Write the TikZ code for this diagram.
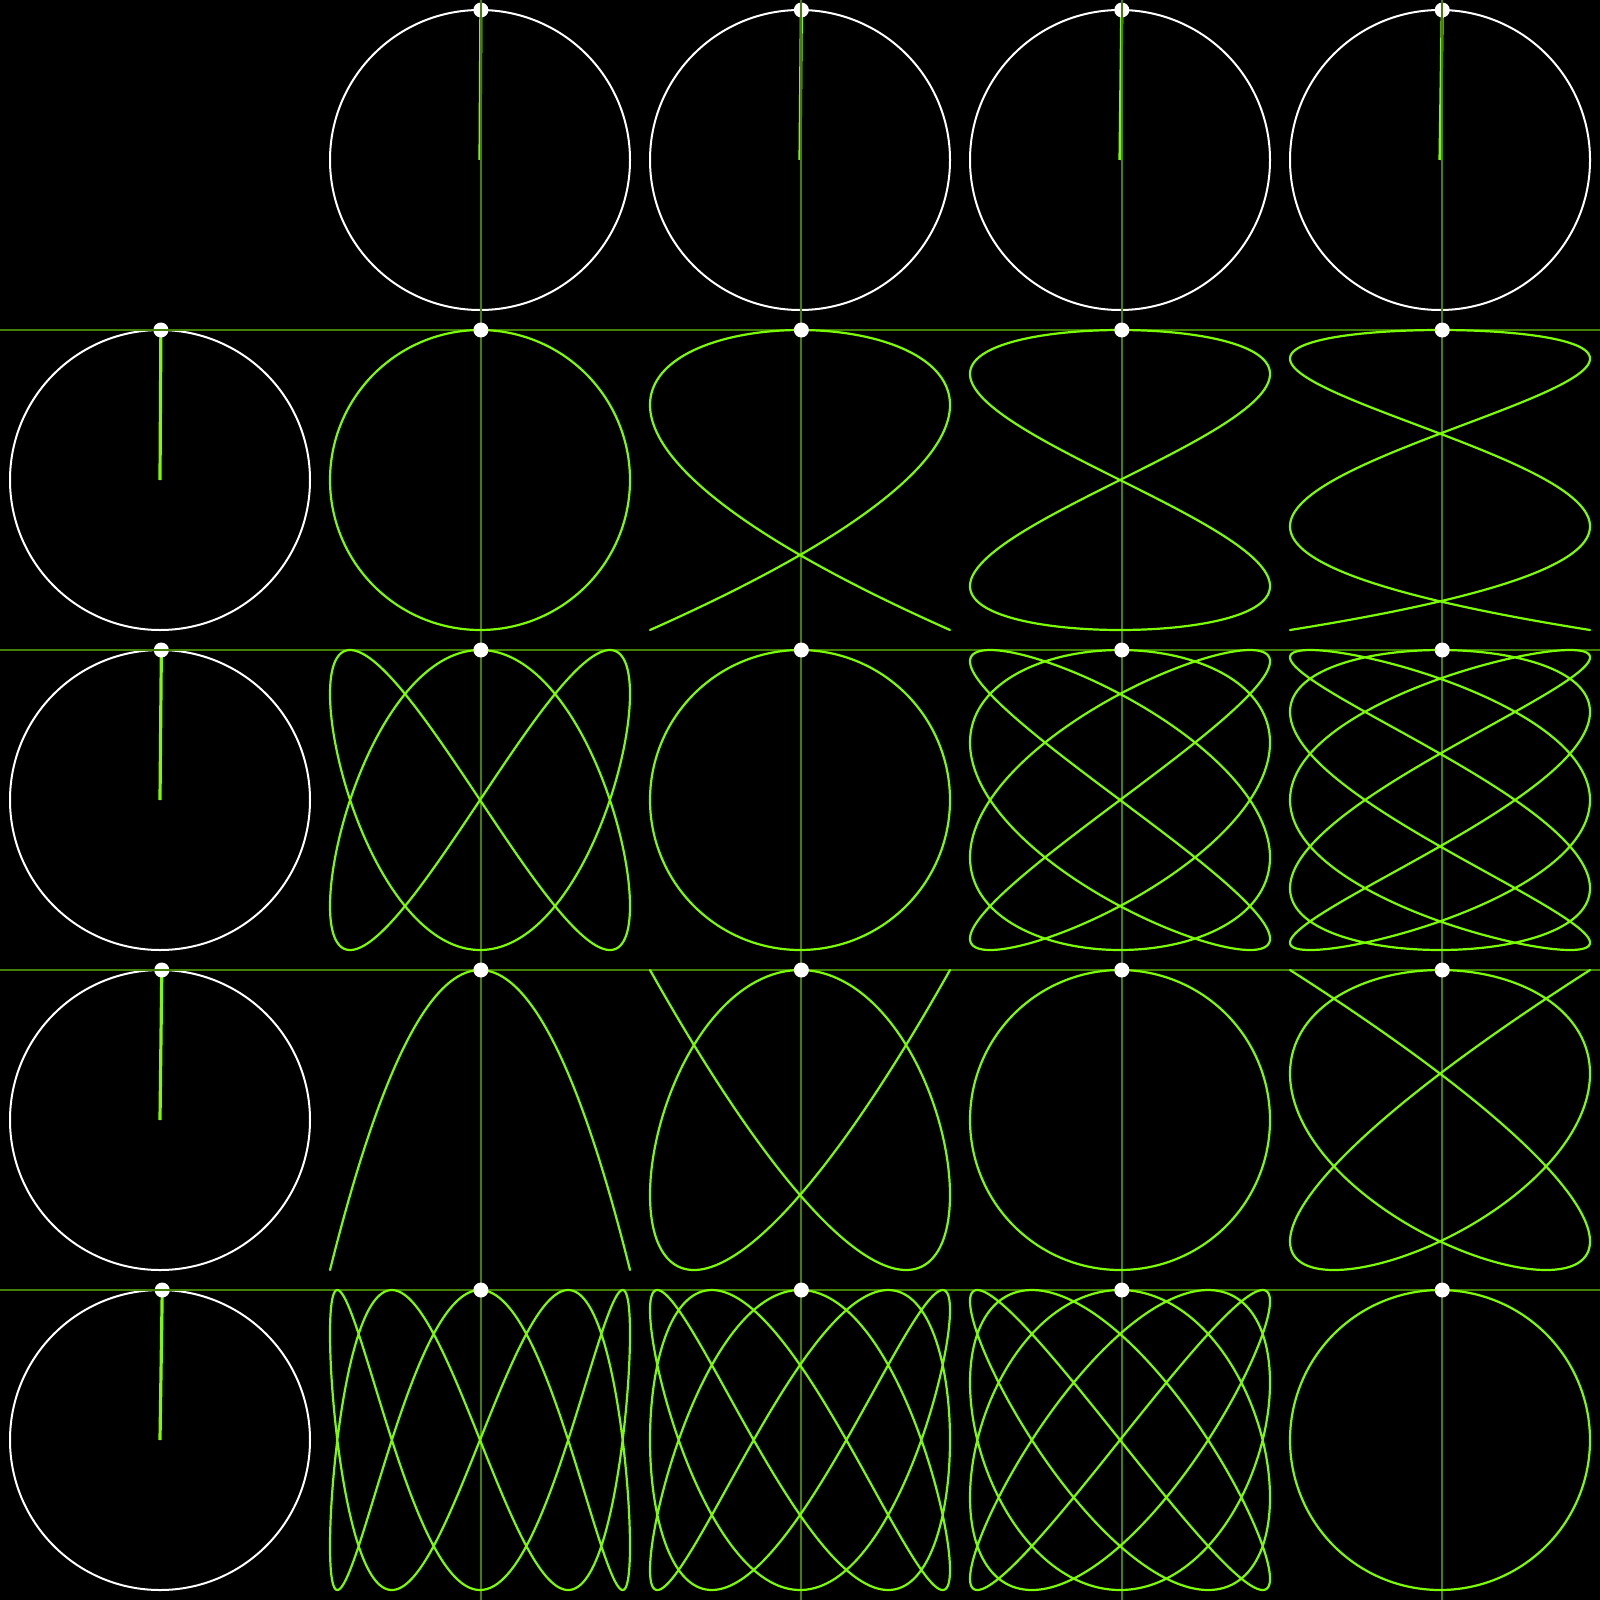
\documentclass[tikz,border=0pt]{standalone}
\definecolor{lg}{RGB}{124,252,0}
\definecolor{lgdark}{RGB}{66,128,6}
\begin{document}
\begin{tikzpicture}[x=0.5pt,y=-0.5pt,
  curve/.style={lg, line width=1.1pt, line join=round},
  guide/.style={lgdark, line width=1pt},
  ring/.style={white, line width=1pt},
  radiusline/.style={lg, line width=1.6pt},
  dotmark/.style={white}]
\fill[black] (0,0) rectangle (1600,1600);
\useasboundingbox (0,0) rectangle (1600,1600);
\def\tz{0.006}
% header circles, radius lines, header dots
\foreach \i in {1,...,4} {
  \pgfmathsetmacro{\sp}{(\i+1)/2}
  \pgfmathsetmacro{\c}{160+320*\i}
  \pgfmathsetmacro{\ox}{150*sin(\sp*\tz r)}
  \pgfmathsetmacro{\oy}{-150*cos(\sp*\tz r)}
  % column header
  \coordinate (ch\i) at (\c,160);
  \coordinate (cd\i) at (\c+\ox,160+\oy);
  \draw[ring] (ch\i) circle (150);
  \draw[radiusline] (ch\i) -- (cd\i);
  \fill[dotmark] (cd\i) circle (7.5);
  % row header
  \coordinate (rh\i) at (160,\c);
  \coordinate (rd\i) at (160+\ox,\c+\oy);
  \draw[ring] (rh\i) circle (150);
  \draw[radiusline] (rh\i) -- (rd\i);
  \fill[dotmark] (rd\i) circle (7.5);
}
% guides
\foreach \i in {1,...,4} {
  \draw[guide] (cd\i |- 0,0) -- (cd\i |- 0,1600);
  \draw[guide] (rd\i -| 0,0) -- (rd\i -| 1600,0);
}
% Lissajous curves and cell dots
\foreach \r in {1,...,4} {
  \foreach \cc in {1,...,4} {
    \pgfmathsetmacro{\a}{(\cc+1)/2}
    \pgfmathsetmacro{\b}{(\r+1)/2}
    \pgfmathsetmacro{\cx}{160+320*\cc}
    \pgfmathsetmacro{\cy}{160+320*\r}
    \draw[curve] plot[domain=0:12.5664, samples=700, variable=\t, smooth]
      ({\cx+150*sin(\a*\t r)}, {\cy-150*cos(\b*\t r)});
  }
}
\foreach \r in {1,...,4} {
  \foreach \cc in {1,...,4} {
    \coordinate (cell\r\cc) at (cd\cc |- rd\r);
    \fill[dotmark] (cell\r\cc) circle (7.5);
  }
}
\end{tikzpicture}
\end{document}
